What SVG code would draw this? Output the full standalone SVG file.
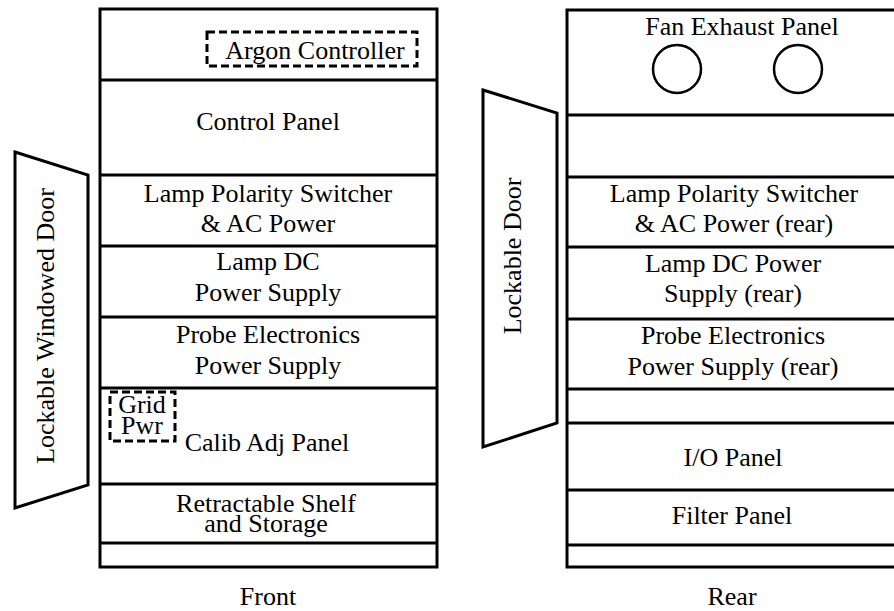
<svg xmlns="http://www.w3.org/2000/svg" width="894" height="611" viewBox="0 0 894 611">
<style>
.ln{fill:none;stroke:#000;stroke-width:3}
.dash{fill:none;stroke:#000;stroke-width:3;stroke-dasharray:8 4}
.fan{fill:none;stroke:#000;stroke-width:2.5}
text{font-family:"Liberation Serif","Times New Roman",serif;font-size:26px;fill:#000;text-anchor:middle}
</style>
<rect width="894" height="611" fill="#fff"/>
<g id="front">
  <rect class="ln" x="100" y="9" width="337" height="558"/>
  <path class="ln" d="M100 80H437M100 175H437M100 246H437M100 317H437M100 388H437M100 484H437M100 543H437"/>
  <g id="argon-controller">
    <rect class="dash" x="207" y="32" width="210" height="34"/>
    <text x="315" y="59">Argon Controller</text>
  </g>
  <g id="control-panel"><text x="268" y="130">Control Panel</text></g>
  <g id="lamp-polarity-front"><text x="268" y="202">Lamp Polarity Switcher</text><text x="268" y="232">&amp; AC Power</text></g>
  <g id="lamp-dc-front"><text x="268" y="270">Lamp DC</text><text x="268" y="301">Power Supply</text></g>
  <g id="probe-front"><text x="268" y="343">Probe Electronics</text><text x="268" y="374">Power Supply</text></g>
  <g id="grid-pwr">
    <rect class="dash" x="110" y="392" width="65" height="49"/>
    <text x="142" y="413">Grid</text><text x="142" y="434">Pwr</text>
  </g>
  <g id="calib-adj"><text x="267" y="451">Calib Adj Panel</text></g>
  <g id="shelf"><text x="266" y="512">Retractable Shelf</text><text x="266" y="532">and Storage</text></g>
  <g id="front-door">
    <polygon class="ln" points="15,152 88,175 88,485 15,508"/>
    <text transform="translate(54,326) rotate(-90)">Lockable Windowed Door</text>
  </g>
  <text x="268" y="605">Front</text>
</g>
<g id="rear">
  <rect class="ln" x="567" y="10" width="334" height="557"/>
  <path class="ln" d="M567 115H900M567 177H900M567 247H900M567 319H900M567 389H900M567 423H900M567 490H900M567 545H900"/>
  <g id="fan-exhaust">
    <text x="742" y="35">Fan Exhaust Panel</text>
    <circle class="fan" cx="677" cy="69" r="24"/>
    <circle class="fan" cx="798" cy="69" r="24"/>
  </g>
  <g id="lamp-polarity-rear"><text x="734" y="202">Lamp Polarity Switcher</text><text x="734" y="232">&amp; AC Power (rear)</text></g>
  <g id="lamp-dc-rear"><text x="733" y="272">Lamp DC Power</text><text x="733" y="302">Supply (rear)</text></g>
  <g id="probe-rear"><text x="733" y="344">Probe Electronics</text><text x="733" y="375">Power Supply (rear)</text></g>
  <g id="io-panel"><text x="733" y="466">I/O Panel</text></g>
  <g id="filter-panel"><text x="732" y="524">Filter Panel</text></g>
  <g id="rear-door">
    <polygon class="ln" points="483,90 557,113 557,423 483,447"/>
    <text transform="translate(521,256) rotate(-90)">Lockable Door</text>
  </g>
  <text x="732" y="605">Rear</text>
</g>
</svg>
